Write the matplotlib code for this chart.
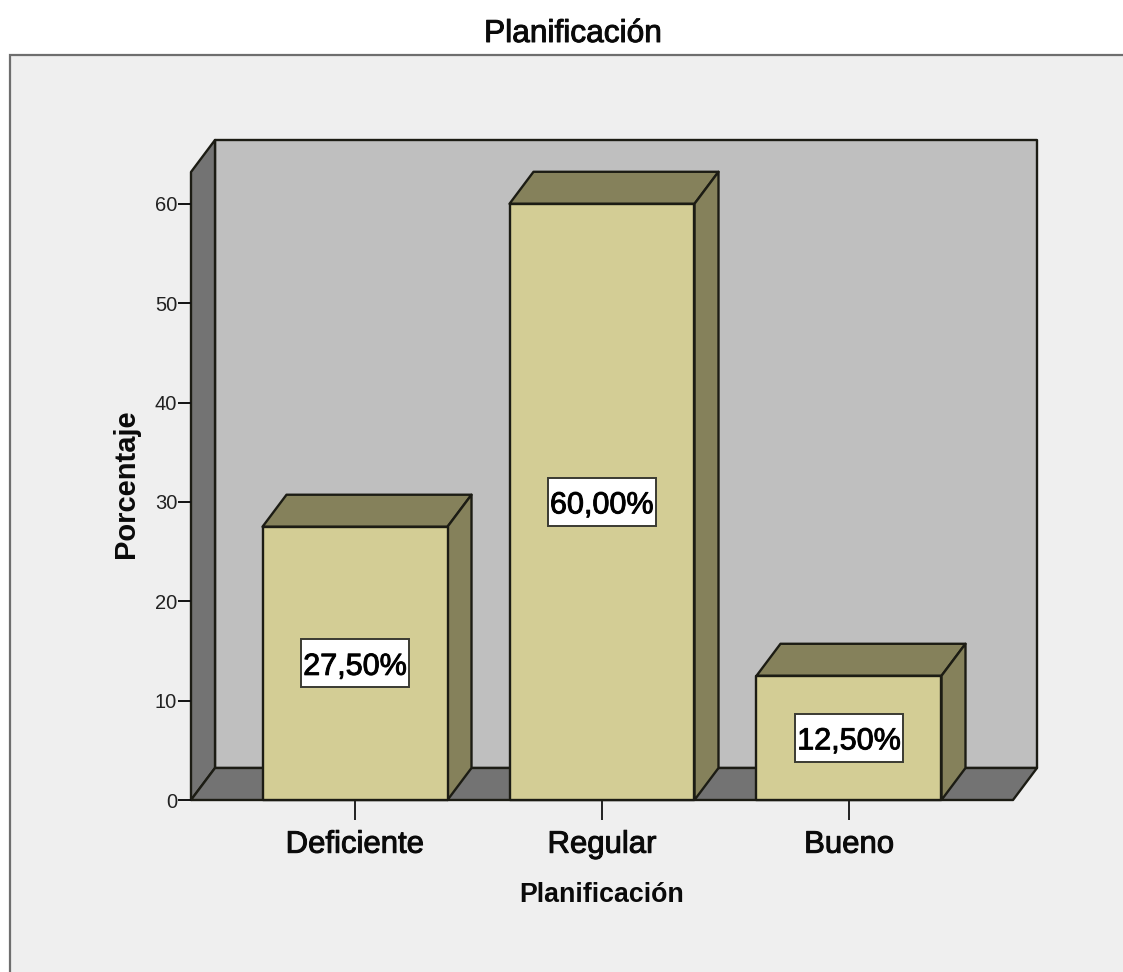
import matplotlib
matplotlib.use("Agg")
import matplotlib.pyplot as plt
import matplotlib.patheffects as pe
from matplotlib.patches import Polygon, Rectangle

plt.rcParams['font.family'] = ['Liberation Sans', 'DejaVu Sans']

categories = ['Deficiente', 'Regular', 'Bueno']
values = [27.5, 60.0, 12.5]
value_labels = ['27,50%', '60,00%', '12,50%']
y_ticks = [0, 10, 20, 30, 40, 50, 60]

W, H = 1123, 972
EDGE = '#1c1c14'
LW = 1.7
# the reference text is a bit heavier than regular, not quite bold
heavy = [pe.withStroke(linewidth=0.7, foreground='#0a0a0a')]

fig = plt.figure(figsize=(W / 100, H / 100), dpi=100, facecolor='white')

# grey panel behind the chart, runs off the right and bottom side
fig.add_artist(Rectangle((10 / W, -0.01), 1.02, 1 - 55 / H + 0.01, transform=fig.transFigure,
                         facecolor='#efefef', edgecolor='#6e6e6e', linewidth=1.6, zorder=-1))
fig.text(573 / W, 1 - 34 / H, 'Planificación', ha='center', va='center', fontsize=22.8, color='#0a0a0a',
         path_effects=heavy)

ax = fig.add_axes([191 / W, 1 - 800 / H, (1013 - 191) / W, (800 - 172) / H])
ax.set_zorder(2)
ax.set_xlim(-0.664, 2.664)
ax.set_ylim(0, 63.2)
ax.patch.set_visible(False)
for s in ax.spines.values():
    s.set_visible(False)

dx = 24 / 247.0   # depth of the fake 3d, in data units
dy = 32 / 9.933
bar_w = 185 / 247.0
box_w, box_h = 108 / 247.0, 48 / 9.933
xl, xr = ax.get_xlim()
top = ax.get_ylim()[1]


def poly(pts, fc, z):
    ax.add_patch(Polygon(pts, closed=True, facecolor=fc, edgecolor=EDGE, linewidth=LW,
                         joinstyle='round', clip_on=False, zorder=z))


poly([(xl + dx, dy), (xr + dx, dy), (xr + dx, top + dy), (xl + dx, top + dy)], '#bfbfbf', 1)
poly([(xl, 0), (xl + dx, dy), (xl + dx, top + dy), (xl, top)], '#737373', 1)
poly([(xl, 0), (xr, 0), (xr + dx, dy), (xl + dx, dy)], '#737373', 1)

for i, v in enumerate(values):
    a, b = i - bar_w / 2, i + bar_w / 2
    poly([(a, v), (b, v), (b + dx, v + dy), (a + dx, v + dy)], '#85815b', 2)
    poly([(b, 0), (b + dx, dy), (b + dx, v + dy), (b, v)], '#85815b', 2)
    poly([(a, 0), (b, 0), (b, v), (a, v)], '#d3cd95', 3)
    ax.add_patch(Rectangle((i - box_w / 2, v / 2 - box_h / 2), box_w, box_h, facecolor='white',
                           edgecolor='#3a3a32', linewidth=1.4, zorder=4))
    ax.text(i, v / 2, value_labels[i], ha='center', va='center_baseline', fontsize=22, color='black', zorder=5,
            path_effects=heavy)

ax.set_yticks(y_ticks)
ax.tick_params(axis='y', length=9.4, width=1.4, pad=0.5, labelsize=14.5, color='#111111', labelcolor='#222222')
ax.set_xticks(range(len(categories)))
ax.set_xticklabels(categories, path_effects=heavy)
ax.tick_params(axis='x', length=14.4, width=1.4, pad=7, labelsize=22.4, color='#222222', labelcolor='#0a0a0a')

ax.set_xlabel('Planificación', fontsize=19.3, fontweight='bold', color='#0a0a0a')
ax.xaxis.set_label_coords((602 - 191) / (1013 - 191), -(895 - 800) / (800 - 172))
ax.xaxis.label.set_va('center')
ax.set_ylabel('Porcentaje', fontsize=21, fontweight='bold', color='#0a0a0a')
ax.yaxis.set_label_coords(-(191 - 126) / (1013 - 191), (800 - 484) / (800 - 172))
ax.yaxis.label.set_va('center')

plt.savefig('out.png', dpi=100)
